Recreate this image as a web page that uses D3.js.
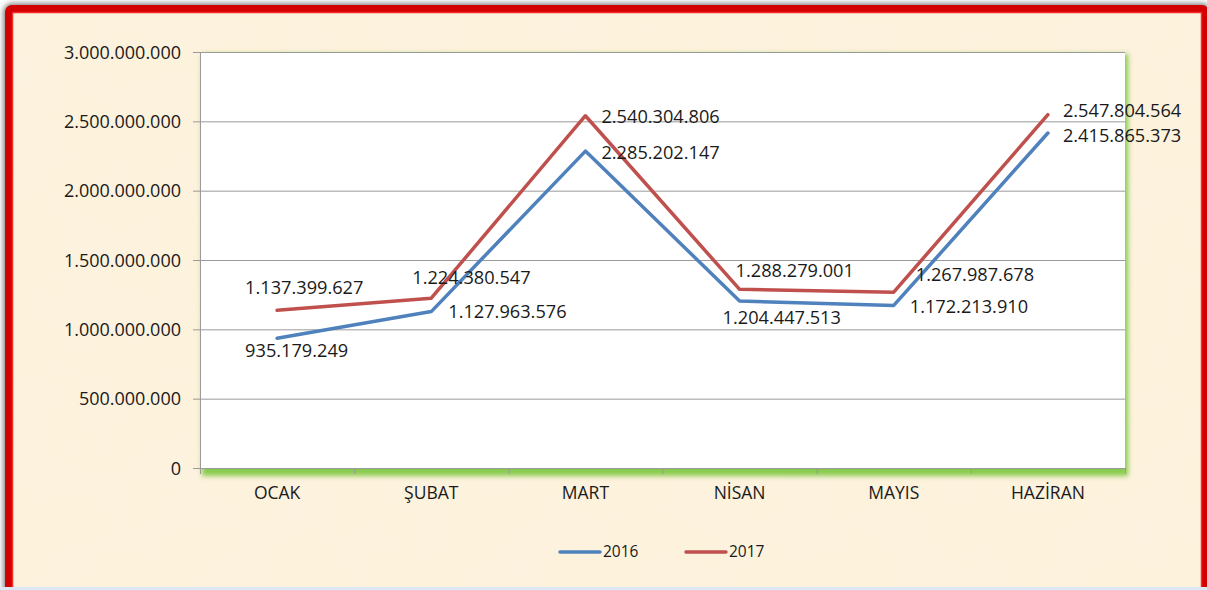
<!DOCTYPE html>
<html>
<head>
<meta charset="utf-8">
<script src="https://cdn.jsdelivr.net/npm/d3@7"></script>
<style>
  body { margin: 0; background: #ffffff; }
  svg { display: block; }
  .tick text { font-family: "Open Sans", sans-serif; fill: #1a1a1a; }
</style>
</head>
<body>
<div class="container"></div>
<script>
// chart data
var months = ['OCAK', 'ŞUBAT', 'MART', 'NİSAN', 'MAYIS', 'HAZİRAN'];
var values2016 = [935179249, 1127963576, 2285202147, 1204447513, 1172213910, 2415865373];
var values2017 = [1137399627, 1224380547, 2540304806, 1288279001, 1267987678, 2547804564];
var yTicks = [0, 500000000, 1000000000, 1500000000, 2000000000, 2500000000, 3000000000];
var seriesNames = ['2016', '2017'];

const WIDTH = 1207;
const HEIGHT = 590;
const PLOT = {left: 200, top: 52, right: 1125, bottom: 468};
const COLORS = ['#4f81bd', '#c0504d'];

// where each value label sits relative to its point: [dx, dy]
var labelPos2016 = [[-32, 12], [17, 0], [16, 2], [-17, 17], [16, 1], [15, 3]];
var labelPos2017 = [[-32, -23], [-19, -21], [16, 1], [-4, -19], [22, -18], [15, -4]];

var trLocale = d3.formatLocale({decimal: ',', thousands: '.', grouping: [3], currency: ['', ' TL']});
var fmt = trLocale.format(',d');

var translate = function (x, y) {
  return 'translate(' + x + ',' + y + ')';
};

var svg = d3.select('.container').append('svg')
  .attr('width', WIDTH)
  .attr('height', HEIGHT);

var defs = svg.append('defs');

// parchment texture
var paper = defs.append('filter').attr('id', 'paper')
  .attr('x', 0).attr('y', 0).attr('width', '100%').attr('height', '100%');
paper.append('feTurbulence').attr('type', 'fractalNoise')
  .attr('baseFrequency', 0.018).attr('numOctaves', 3).attr('seed', 11).attr('result', 'noise');
paper.append('feColorMatrix').attr('in', 'noise').attr('type', 'matrix')
  .attr('values', '0 0 0 0 0.97  0 0 0 0 0.89  0 0 0 0 0.74  0 0 0 -2.2 1.25')
  .attr('result', 'tint');
paper.append('feComposite').attr('in', 'tint').attr('in2', 'SourceGraphic').attr('operator', 'in');

var shadow = defs.append('filter').attr('id', 'shadow')
  .attr('x', '-2%').attr('y', '-4%').attr('width', '104%').attr('height', '108%');
shadow.append('feGaussianBlur').attr('stdDeviation', 2.5);

var glow = defs.append('filter').attr('id', 'glow')
  .attr('x', '-5%').attr('y', '-5%').attr('width', '110%').attr('height', '120%');
glow.append('feGaussianBlur').attr('stdDeviation', 2.5);

// frame
svg.append('rect')
  .attr('x', 7).attr('y', 7).attr('width', 1200).attr('height', 610).attr('rx', 5)
  .attr('fill', 'none').attr('stroke', '#8a8a8a').attr('stroke-width', 8)
  .attr('filter', 'url(#shadow)');
svg.append('rect')
  .attr('x', 9).attr('y', 9).attr('width', 1196).attr('height', 600)
  .attr('fill', '#fdf2dc');
svg.append('rect')
  .attr('x', 9).attr('y', 9).attr('width', 1196).attr('height', 600)
  .attr('fill', '#fdf2dc').attr('filter', 'url(#paper)');
svg.append('rect')
  .attr('x', 9).attr('y', 9).attr('width', 1196).attr('height', 600).attr('rx', 3)
  .attr('fill', 'none').attr('stroke', '#d20000').attr('stroke-width', 8);
svg.append('rect')
  .attr('x', 12.5).attr('y', 12.5).attr('width', 1189).attr('height', 600)
  .attr('fill', 'none').attr('stroke', '#f52a2a').attr('stroke-width', 1.5);
svg.append('rect')
  .attr('x', 0).attr('y', 587).attr('width', WIDTH).attr('height', 3)
  .attr('fill', '#dde8f5');

var xScale = d3.scaleBand()
  .domain(months)
  .range([PLOT.left, PLOT.right]);

var yScale = d3.scaleLinear()
  .domain([0, 3000000000])
  .range([PLOT.bottom, PLOT.top]);

// plot area with green glow on right and bottom
svg.append('rect')
  .attr('x', PLOT.left + 2).attr('y', PLOT.top + 2)
  .attr('width', PLOT.right - PLOT.left + 1).attr('height', PLOT.bottom - PLOT.top + 6)
  .attr('fill', '#7cc63c').attr('opacity', 0.9).attr('filter', 'url(#glow)');
svg.append('rect')
  .attr('x', PLOT.left).attr('y', PLOT.top)
  .attr('width', PLOT.right - PLOT.left).attr('height', PLOT.bottom - PLOT.top)
  .attr('fill', '#ffffff');

// gridlines
svg.append('g').selectAll('line').data(yTicks).enter().append('line')
  .attr('x1', PLOT.left - 7).attr('x2', PLOT.right)
  .attr('y1', function (d) { return yScale(d) + 0.5; })
  .attr('y2', function (d) { return yScale(d) + 0.5; })
  .attr('stroke', '#9a9a9a').attr('stroke-width', 1);

var yAxis = d3.axisLeft(yScale).tickValues(yTicks).tickFormat(fmt).tickSize(0).tickPadding(12);
var gy = svg.append('g').attr('transform', translate(PLOT.left - 7, 0)).call(yAxis);
gy.select('.domain').remove();
gy.selectAll('text').attr('font-size', 18).attr('dy', '0.35em');

var xAxis = d3.axisBottom(xScale).tickSize(0).tickPadding(19);
var gx = svg.append('g').attr('transform', translate(0, PLOT.bottom)).call(xAxis);
gx.select('.domain').remove();
gx.selectAll('text').attr('font-size', 17.5);

// category ticks
var edges = months.map(function (m) { return xScale(m); }).concat([PLOT.right]);
svg.append('g').selectAll('line').data(edges).enter().append('line')
  .attr('x1', function (d) { return d + 0.5; }).attr('x2', function (d) { return d + 0.5; })
  .attr('y1', PLOT.bottom).attr('y2', PLOT.bottom + 6)
  .attr('stroke', '#9a9a9a');
svg.append('line')
  .attr('x1', PLOT.left + 0.5).attr('x2', PLOT.left + 0.5)
  .attr('y1', PLOT.top).attr('y2', PLOT.bottom)
  .attr('stroke', '#9a9a9a');

var cx = function (m) { return xScale(m) + xScale.bandwidth() / 2; };

var line = d3.line()
  .x(function (d, i) { return cx(months[i]); })
  .y(function (d) { return yScale(d); });

var series = [values2016, values2017];
var labelPositions = [labelPos2016, labelPos2017];

series.forEach(function (vals, s) {
  svg.append('path')
    .attr('d', line(vals))
    .attr('fill', 'none')
    .attr('stroke', COLORS[s])
    .attr('stroke-width', 3.5)
    .attr('stroke-linejoin', 'round')
    .attr('stroke-linecap', 'round');
});

series.forEach(function (vals, s) {
  svg.append('g').selectAll('text').data(vals).enter().append('text')
    .attr('x', function (d, i) { return cx(months[i]) + labelPositions[s][i][0]; })
    .attr('y', function (d, i) { return yScale(d) + labelPositions[s][i][1]; })
    .attr('dy', '0.35em')
    .attr('font-family', '"Open Sans", sans-serif')
    .attr('font-size', 18.2)
    .attr('fill', '#1a1a1a')
    .text(function (d) { return fmt(d); });
});

// legend
var legend = svg.append('g').attr('transform', translate(560, 552));
seriesNames.forEach(function (name, i) {
  var g = legend.append('g').attr('transform', translate(i * 126, 0));
  g.append('line').attr('x1', 0).attr('x2', 40).attr('y1', 0).attr('y2', 0)
    .attr('stroke', COLORS[i]).attr('stroke-width', 3.5).attr('stroke-linecap', 'round');
  g.append('text').attr('x', 43).attr('dy', '0.35em')
    .attr('font-family', '"Open Sans", sans-serif').attr('font-size', 15.5)
    .attr('fill', '#1a1a1a').text(name);
});
</script>
</body>
</html>
